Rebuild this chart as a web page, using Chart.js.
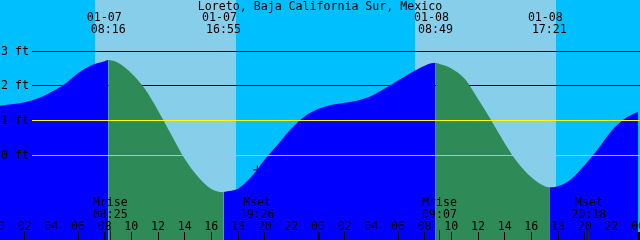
<!DOCTYPE html>
<html>
<head>
<meta charset="utf-8">
<script src="https://cdn.jsdelivr.net/npm/chart.js@4/dist/chart.umd.min.js"></script>
<style>
html,body{margin:0;padding:0;background:#00BFFF;}
canvas{display:block;}
</style>
</head>
<body>
<canvas id="c" width="640" height="240"></canvas>
<script>
// ---- data ----
const title = "Loreto, Baja California Sur, Mexico";
const hours = [0,1,2,3,4,5,6,7,8,9,10,11,12,13,14,15,16,17,18,19,20,21,22,23,24,
               25,26,27,28,29,30,31,32,33,34,35,36,37,38,39,40,41,42,43,44,45,46,47,48];
const heights = [1.43,1.47,1.53,1.64,1.82,2.05,2.36,2.59,2.71,2.66,2.36,1.92,1.29,0.59,-0.10,-0.62,-0.97,-1.05,-0.96,-0.62,-0.12,0.32,0.77,1.12,1.33,
                 1.45,1.51,1.58,1.71,1.92,2.15,2.38,2.58,2.64,2.50,2.20,1.62,1.00,0.35,-0.22,-0.63,-0.89,-0.89,-0.68,-0.28,0.18,0.70,1.05,1.25];
const eventTimes = [8.267, 16.917, 32.817, 41.35];
const eventHeights = [2.74, -1.06, 2.66, -0.92];
const eventKinds = ["high","low","high","low"];
const eventDates = ["01-07","01-07","01-08","01-08"];
const eventClock = ["08:16","16:55","08:49","17:21"];
const sunriseTimes = [7.25, 31.25];
const sunsetTimes = [17.83, 41.83];
const moonTimes = [8.417, 19.433, 33.117, 44.3];
const moonLabels = ["Mrise","Mset","Mrise","Mset"];
const moonClock = ["08:25","19:26","09:07","20:18"];
const levelTicks = [3,2,1,0];
const levelLabels = ["3 ft","2 ft","1 ft","0 ft"];
const hourTicks = [0,2,4,6,8,10,12,14,16,18,20,22,24,26,28,30,32,34,36,38,40,42,44,46,48];
const hourLabels = ["00","02","04","06","08","10","12","14","16","18","20","22",
                    "00","02","04","06","08","10","12","14","16","18","20","22","00"];
const markTimes = [19.45];
const markHeights = [-0.42];

// ---- colours ----
const NIGHT = "#00BFFF", DAY = "#87CEEB", RISE = "#0000FF", FALL = "#2E8B57";
const FONT = '11.6px "DejaVu Sans Mono", "Liberation Mono", monospace';

// build curve points
const curve = hours.map((h,i)=>({x:h,y:heights[i]}));
eventTimes.forEach((t,i)=>curve.push({x:t,y:eventHeights[i]}));
curve.sort((a,b)=>a.x-b.x);

const fallIntervals = [];
for (let i=0;i<eventTimes.length-1;i++){
  if (eventKinds[i]==="high" && eventKinds[i+1]==="low") fallIntervals.push([eventTimes[i],eventTimes[i+1]]);
}
function isFalling(x){
  return fallIntervals.some(([a,b])=>x>=a-1e-6 && x<b-1e-6);
}

const bgPlugin = {
  id:'bg',
  beforeDatasetsDraw(chart){
    const {ctx, scales:{x:xs,y:ys}} = chart;
    ctx.save();
    ctx.fillStyle = NIGHT;
    ctx.fillRect(0,0,chart.width,chart.height);
    ctx.fillStyle = DAY;
    sunriseTimes.forEach((t,i)=>{
      const x0 = Math.round(xs.getPixelForValue(t));
      const x1 = Math.round(xs.getPixelForValue(sunsetTimes[i]));
      ctx.fillRect(x0,0,x1-x0,chart.height);
    });
    ctx.strokeStyle = "#000";
    ctx.lineWidth = 1;
    [3,2].forEach(v=>{
      const y = Math.floor(ys.getPixelForValue(v))+0.5;
      ctx.beginPath(); ctx.moveTo(32,y); ctx.lineTo(640,y); ctx.stroke();
    });
    ctx.restore();
  },
  afterDatasetsDraw(chart){
    const {ctx, scales:{x:xs,y:ys}} = chart;
    ctx.save();
    ctx.lineWidth = 1;
    // MSL and datum lines
    [[1,"#FFFF00"],[0,DAY]].forEach(([v,c])=>{
      const y = Math.floor(ys.getPixelForValue(v))+0.5;
      ctx.strokeStyle = c;
      ctx.beginPath(); ctx.moveTo(32,y); ctx.lineTo(640,y); ctx.stroke();
    });
    ctx.fillStyle = "#000";
    ctx.font = FONT;
    ctx.textBaseline = "alphabetic";
    // level labels
    ctx.textAlign = "left";
    levelTicks.forEach((v,i)=>{
      const y = Math.floor(ys.getPixelForValue(v))+4;
      ctx.fillText(levelLabels[i], 1, y);
    });
    // title
    ctx.textAlign = "center";
    ctx.fillText(title, 320, 10);
    // tide events
    eventTimes.forEach((t,i)=>{
      const x = xs.getPixelForValue(t);
      ctx.fillText(eventDates[i], x-4, 21);
      ctx.fillText(eventClock[i], x, 33);
    });
    // moon events
    moonTimes.forEach((t,i)=>{
      const x = xs.getPixelForValue(t);
      ctx.fillText(moonLabels[i], x, 206);
      ctx.fillText(moonClock[i], x, 218);
      ctx.strokeStyle = "#222";
      const xl = Math.floor(x)+0.5;
      ctx.beginPath(); ctx.moveTo(xl,230); ctx.lineTo(xl,240); ctx.stroke();
    });
    // hour ticks and labels
    ctx.strokeStyle = "#000";
    hourTicks.forEach((h,i)=>{
      const px = xs.getPixelForValue(h);
      ctx.fillText(hourLabels[i], px, 230);
      if (h % 24 === 0) {
        ctx.fillRect(Math.floor(px+0.01)-1, 232, 3, 8);
      } else {
        const xl = Math.floor(px+0.01)+0.5;
        ctx.beginPath(); ctx.moveTo(xl,232); ctx.lineTo(xl,240); ctx.stroke();
      }
    });
    ctx.restore();
  }
};

new Chart(document.getElementById('c'), {
  type:'line',
  data:{
    datasets:[
      {
        data: curve,
        parsing:false,
        borderWidth:0,
        borderColor:'rgba(0,0,0,0)',
        backgroundColor: RISE,
        fill:'start',
        pointRadius:0,
        cubicInterpolationMode:'monotone',
        segment:{
          backgroundColor: c => isFalling(c.p0.parsed.x) ? FALL : RISE
        }
      },
      {
        data: markTimes.map((t,i)=>({x:t,y:markHeights[i]})),
        parsing:false,
        showLine:false,
        fill:false,
        pointStyle:'cross',
        pointRadius:4.5,
        borderColor:'#000',
        backgroundColor:'#000',
        borderWidth:1
      }
    ]
  },
  options:{
    responsive:false,
    devicePixelRatio:1,
    animation:false,
    events:[],
    layout:{padding:0, autoPadding:false},
    plugins:{legend:{display:false},tooltip:{enabled:false}},
    scales:{
      x:{type:'linear',min:0.15,max:48.15,display:false},
      y:{type:'linear',min:-2.437,max:4.469,display:false}
    }
  },
  plugins:[bgPlugin]
});
</script>
</body>
</html>
